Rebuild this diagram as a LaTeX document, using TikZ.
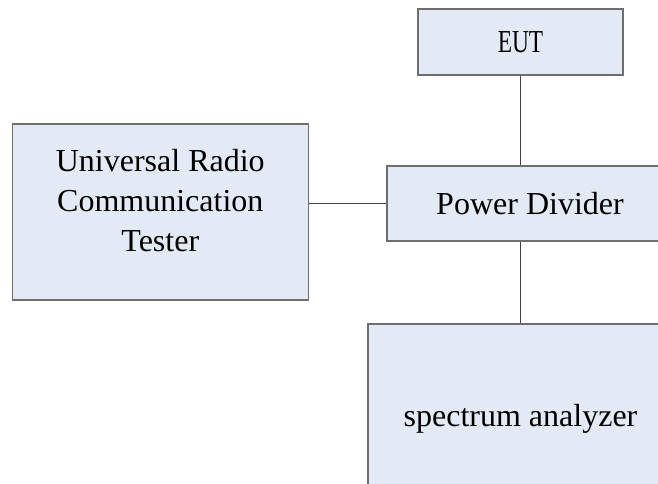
\documentclass[tikz,border=0pt]{standalone}
\usepackage{fontspec}
\setmainfont{Liberation Serif}
\usepackage{graphicx}
\definecolor{boxfill}{HTML}{E4EAF5}
\definecolor{boxline}{HTML}{6E6E6E}

\begin{document}
\begin{tikzpicture}[x=1pt, y=1pt,
    box/.style={rectangle, draw=boxline, fill=boxfill, line width=1.2pt, inner sep=0pt,
        align=center, font=\fontsize{32}{40}\selectfont},
    wire/.style={draw=black!75, line width=0.7pt}]
    \useasboundingbox (0,0) rectangle (658,484);
    \clip (0,0) rectangle (658,484);
    \node[box, minimum width=205, minimum height=66] (eut) at (520.5,442) {\scalebox{0.73}[1]{EUT}};
    \node[box, minimum width=286, minimum height=75] (pd) at (530,280.5) {Power Divider};
    \node[box, minimum width=296, minimum height=176] (urct) at (160.3,272)
        {\raisebox{2pt}[0pt][0pt]{\begin{tabular}{@{}c@{}}Universal Radio\\Communication\\Tester\end{tabular}}};
    \node[box, minimum width=305, minimum height=190] (sa) at (520.5,65) {\raisebox{-8pt}[0pt][0pt]{spectrum analyzer}};
    \draw[wire] (eut.south) -- (eut.south |- pd.north);
    \draw[wire] (eut.south |- pd.south) -- (eut.south |- sa.north);
    \draw[wire] (urct.east |- pd.west) -- (pd.west);
\end{tikzpicture}
\end{document}
